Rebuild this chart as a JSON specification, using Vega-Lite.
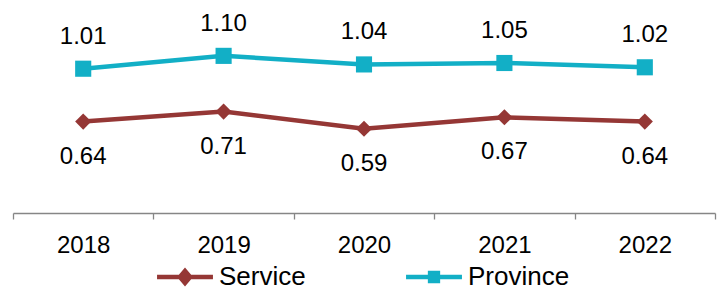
{
  "$schema": "https://vega.github.io/schema/vega-lite/v6.json",
  "width": 702,
  "height": 200,
  "autosize": {"type": "none"},
  "padding": {"left": 13, "top": 13, "right": 9, "bottom": 77},
  "background": "white",
  "config": {
    "view": {"stroke": null},
    "font": "Liberation Sans",
    "legend": {
      "title": null,
      "orient": "none",
      "direction": "horizontal",
      "symbolSize": 500,
      "symbolOpacity": 1,
      "symbolStrokeWidth": 0,
      "labelFontSize": 26,
      "labelColor": "#000000",
      "labelOffset": 21,
      "labelLimit": 300
    }
  },
  "data": {
    "values": [
      {"year": "2018", "series": "Service", "value": 0.64},
      {"year": "2019", "series": "Service", "value": 0.71},
      {"year": "2020", "series": "Service", "value": 0.59},
      {"year": "2021", "series": "Service", "value": 0.67},
      {"year": "2022", "series": "Service", "value": 0.64},
      {"year": "2018", "series": "Province", "value": 1.01},
      {"year": "2019", "series": "Province", "value": 1.10},
      {"year": "2020", "series": "Province", "value": 1.04},
      {"year": "2021", "series": "Province", "value": 1.05},
      {"year": "2022", "series": "Province", "value": 1.02}
    ]
  },
  "encoding": {
    "x": {
      "field": "year",
      "type": "ordinal",
      "scale": {"type": "band", "paddingInner": 0, "paddingOuter": 0},
      "axis": {
        "title": null,
        "labelAngle": 0,
        "labelFontSize": 24,
        "labelColor": "#000000",
        "labelPadding": 14,
        "domainColor": "#868686",
        "domainWidth": 1.3,
        "tickColor": "#868686",
        "tickWidth": 1.3,
        "tickSize": 6,
        "tickBand": "extent",
        "grid": false
      }
    },
    "y": {
      "field": "value",
      "type": "quantitative",
      "scale": {"domain": [0, 1.4], "nice": false},
      "axis": null
    }
  },
  "layer": [
    {
      "mark": {"type": "line", "strokeWidth": 4.5},
      "encoding": {
        "color": {
          "field": "series",
          "type": "nominal",
          "scale": {"domain": ["Service", "Province"], "range": ["#953735", "#12AFC6"]},
          "legend": null
        }
      }
    },
    {
      "mark": {"type": "point", "filled": true, "opacity": 1},
      "encoding": {
        "color": {"field": "series", "type": "nominal", "legend": null},
        "shape": {
          "field": "series",
          "type": "nominal",
          "scale": {"domain": ["Service", "Province"], "range": ["diamond", "square"]},
          "legend": null
        },
        "size": {"value": 260}
      }
    },
    {
      "transform": [{"filter": "datum.series === 'Province'"}],
      "mark": {"type": "text", "fontSize": 24, "dy": -32, "color": "#000000"},
      "encoding": {"text": {"field": "value", "type": "quantitative", "format": ".2f"}}
    },
    {
      "transform": [{"filter": "datum.series === 'Service'"}],
      "mark": {"type": "text", "fontSize": 24, "dy": 35, "color": "#000000"},
      "encoding": {"text": {"field": "value", "type": "quantitative", "format": ".2f"}}
    },
    {
      "transform": [{"filter": "datum.series === 'Service'"}],
      "mark": {"type": "point", "filled": true, "opacity": 0, "color": "#953735"},
      "encoding": {
        "shape": {
          "field": "series",
          "type": "nominal",
          "scale": {
            "domain": ["Service"],
            "range": [
              "M-2.5,-0.2L-0.551,-0.2L0,-0.85L0.551,-0.2L2.5,-0.2L2.5,0.2L0.551,0.2L0,0.85L-0.551,0.2L-2.5,0.2Z"
            ]
          },
          "legend": {"legendX": 159, "legendY": 251}
        }
      }
    },
    {
      "transform": [{"filter": "datum.series === 'Province'"}],
      "mark": {"type": "point", "filled": true, "opacity": 0, "color": "#12AFC6"},
      "encoding": {
        "shape": {
          "field": "series",
          "type": "nominal",
          "scale": {
            "domain": ["Province"],
            "range": [
              "M-2.5,-0.2L-0.55,-0.2L-0.55,-0.55L0.55,-0.55L0.55,-0.2L2.5,-0.2L2.5,0.2L0.55,0.2L0.55,0.55L-0.55,0.55L-0.55,0.2L-2.5,0.2Z"
            ]
          },
          "legend": {"legendX": 408, "legendY": 251}
        }
      }
    }
  ],
  "resolve": {"scale": {"shape": "independent"}, "legend": {"shape": "independent"}}
}
